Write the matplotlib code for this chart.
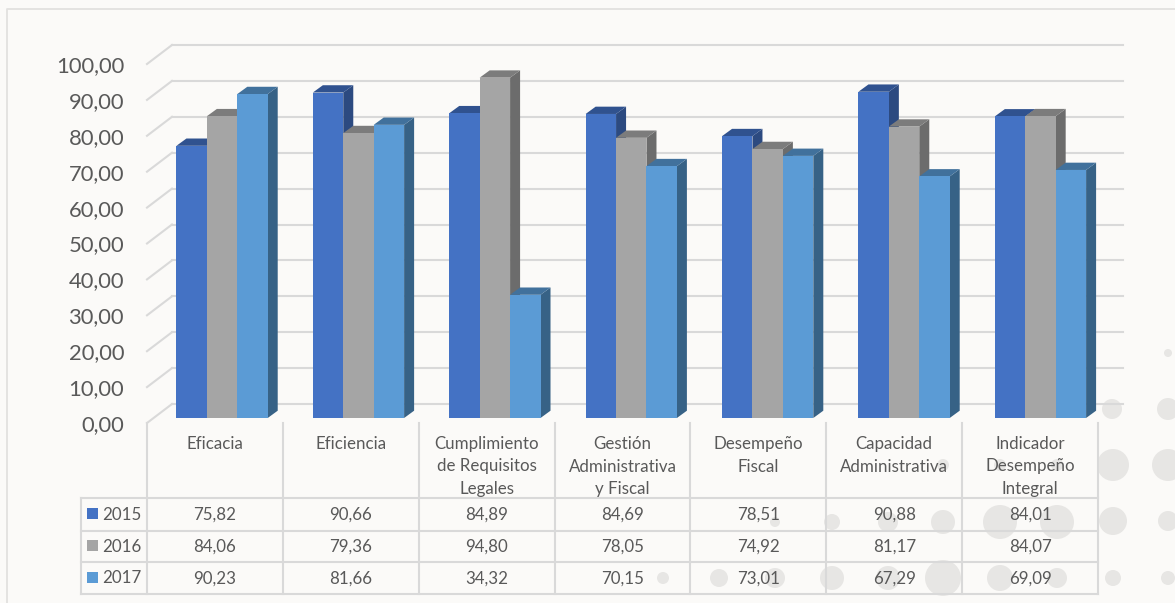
import matplotlib
matplotlib.use("Agg")
import matplotlib.pyplot as plt
from matplotlib.patches import Polygon, Circle, Rectangle
from matplotlib.lines import Line2D
from matplotlib.transforms import Affine2D, IdentityTransform

categories = ["Eficacia", "Eficiencia", "Cumplimiento\nde Requisitos\nLegales",
              "Gestión\nAdministrativa\ny Fiscal", "Desempeño\nFiscal",
              "Capacidad\nAdministrativa", "Indicador\nDesempeño\nIntegral"]
years = ["2015", "2016", "2017"]
v2015 = [75.82, 90.66, 84.89, 84.69, 78.51, 90.88, 84.01]
v2016 = [84.06, 79.36, 94.80, 78.05, 74.92, 81.17, 84.07]
v2017 = [90.23, 81.66, 34.32, 70.15, 73.01, 67.29, 69.09]
series = [v2015, v2016, v2017]
yticks = list(range(0, 101, 10))

front = ["#4472C4", "#A5A5A5", "#5B9BD5"]
side = ["#2C4A80", "#6C6C6C", "#376286"]
top = ["#30528F", "#7C7C7C", "#41719C"]
GRID = "#D9D9D9"
TXT = "#595959"
BG = "#FBFAF8"
W, H = 1175, 603
FONT = "Lato"

fig = plt.figure(figsize=(W / 100, H / 100), dpi=100, facecolor=BG)
px = Affine2D().scale(1, -1).translate(0, H)  # pixel coordinates, y down

# faint decorative dots of the slide background
dots = [(1168, 353, 4), (1168, 409, 11), (1112, 409, 10), (1113, 465, 16), (1168, 465, 16),
        (1113, 521, 14), (1168, 521, 10), (1113, 578, 8), (1168, 578, 7), (1057, 522, 17),
        (1000, 522, 17), (943, 522, 12), (888, 522, 10), (832, 522, 8), (775, 522, 5),
        (1057, 578, 10), (1000, 578, 13), (943, 578, 18), (888, 578, 12), (832, 578, 12),
        (943, 465, 6), (1057, 465, 6), (1000, 465, 6), (775, 578, 10), (719, 578, 9), (663, 578, 6)]
for x, y, r in dots:
    fig.add_artist(Circle((x, y), r, transform=px, facecolor="#E7E6E4", edgecolor="none", zorder=0))

# outer frame
fig.add_artist(Line2D([7, 7, 1175], [603, 9, 9], transform=px, color="#E2E1DF", lw=1.3, zorder=1))

# front plane of the 3-D box: x from 147 to 1098, y from 423 (0) to 64 (100)
ax = fig.add_axes([147 / W, 1 - 423 / H, (1098 - 147) / W, (423 - 64) / H])
ax.set_xlim(-0.5, 6.5)
ax.set_ylim(0, 100)
ax.patch.set_alpha(0)
for s in ax.spines.values():
    s.set_visible(False)
ax.set_xticks([])
ax.set_yticks(yticks)
ax.set_yticklabels([f"{t},00" for t in yticks], fontsize=15.8, color=TXT, family=FONT)
ax.tick_params(axis="y", length=0, pad=16.5)

# walls: gridlines on the back plane plus the diagonal on the side wall
back = ax.transData + Affine2D().translate(25, 19)
for t in yticks:
    ax.plot([-0.5, 6.5], [t, t], transform=back, color=GRID, lw=1.5, clip_on=False, zorder=1)
    p0 = ax.transData.transform((-0.5, t))
    ax.add_line(Line2D([p0[0], p0[0] + 25], [p0[1], p0[1] + 19], transform=IdentityTransform(),
                       color=GRID, lw=1.5, clip_on=False, zorder=1))

# bars, shifted part-way into the box
bars = ax.transData + Affine2D().scale(136.4 / 135.86, 1).translate(6.3, 5)
BW = 30.3 / 135.86
DX, DY = 10, 7.3
for k, vals in enumerate(series):
    for i, v in enumerate(vals):
        x0 = i + (k - 1.5) * BW
        a = bars.transform((x0, 0))
        b = bars.transform((x0 + BW, v))
        ax.add_patch(Polygon([(b[0], a[1]), (b[0] + DX, a[1] + DY), (b[0] + DX, b[1] + DY), (b[0], b[1])],
                             transform=IdentityTransform(), facecolor=side[k], edgecolor="none",
                             zorder=3 + k, clip_on=False))
        ax.add_patch(Polygon([(a[0], b[1]), (a[0] + DX, b[1] + DY), (b[0] + DX, b[1] + DY), (b[0], b[1])],
                             transform=IdentityTransform(), facecolor=top[k], edgecolor="none",
                             zorder=3 + k, clip_on=False))
        ax.add_patch(Rectangle((x0, 0), BW, v, transform=bars, facecolor=front[k],
                               edgecolor="none", zorder=3 + k, clip_on=False))

# data table
col_edges = [147 + 135.86 * i for i in range(8)]
row_edges = [498, 530.5, 562, 593.5]
tl = dict(transform=px, color=GRID, lw=1.5, zorder=2)
for x in col_edges:
    fig.add_artist(Line2D([x, x], [423, row_edges[-1]], **tl))
fig.add_artist(Line2D([81, 81], [row_edges[0], row_edges[-1]], **tl))
for y in row_edges:
    fig.add_artist(Line2D([81, col_edges[-1]], [y, y], **tl))

for i, c in enumerate(categories):
    xc = (col_edges[i] + col_edges[i + 1]) / 2
    fig.text(xc, 436, c, transform=px, ha="center", va="top", fontsize=12.2, color=TXT,
             family=FONT, linespacing=1.5)
for r, (yr, vals) in enumerate(zip(years, series)):
    yc = (row_edges[r] + row_edges[r + 1]) / 2
    fig.add_artist(Rectangle((87, yc - 6), 11, 11, transform=px, facecolor=front[r], edgecolor="none"))
    fig.text(102, yc + 0.5, yr, transform=px, ha="left", va="center", fontsize=12.2, color=TXT, family=FONT)
    for i, v in enumerate(vals):
        xc = (col_edges[i] + col_edges[i + 1]) / 2
        fig.text(xc, yc + 0.5, f"{v:.2f}".replace(".", ","), transform=px, ha="center", va="center",
                 fontsize=12.2, color=TXT, family=FONT)

fig.savefig("out.png", dpi=100, facecolor=BG)
